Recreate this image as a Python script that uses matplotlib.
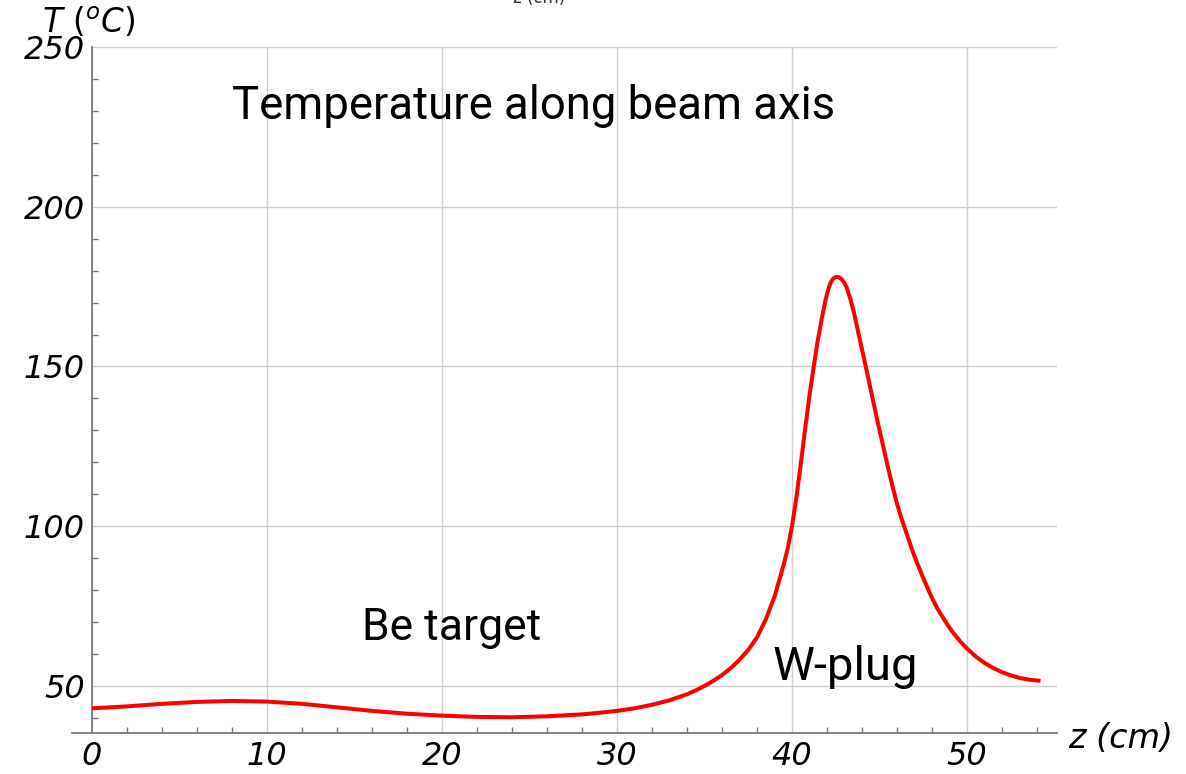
import matplotlib

matplotlib.use("Agg")
import matplotlib.pyplot as plt
from matplotlib.ticker import MultipleLocator

# ── data ─────────────────────────────────────────────────────────────────────
z_cm = [0, 2, 4, 6, 8, 10, 12, 14, 16, 18, 20, 22, 24, 26, 28, 29, 30, 31, 32,
        33, 34, 34.5, 35, 35.5, 36, 36.5, 37, 37.5, 38, 38.5, 39, 39.5, 39.75,
        40, 40.25, 40.5, 40.75, 41.0, 41.2, 41.45, 41.7, 41.9, 42.06, 42.2,
        42.35, 42.5, 42.65, 42.8, 42.95, 43.12, 43.35, 43.54, 43.85, 44.2,
        44.4, 44.6, 44.8, 45.0, 45.25, 45.5, 45.75, 46.0, 46.25, 46.5, 46.75,
        47.0, 47.3, 47.65, 48.0, 48.3, 48.6, 48.9, 49.2, 49.6, 50.0, 50.5,
        51.0, 51.5, 52.0, 52.5, 53.0, 53.6, 54.2]
temp_c = [43.0, 43.6, 44.4, 45.0, 45.3, 45.1, 44.4, 43.3, 42.2, 41.3, 40.7,
          40.3, 40.2, 40.5, 41.1, 41.6, 42.2, 43.0, 44.1, 45.5, 47.4, 48.6,
          50.0, 51.6, 53.4, 55.6, 58.2, 61.3, 65.2, 70.8, 78.0, 87.5, 93.0,
          100.0, 109.0, 119.5, 130.5, 141.0, 148.5, 157.5, 165.0, 170.5, 174.0,
          176.2, 177.5, 178.0, 178.0, 177.5, 176.5, 174.8, 170.8, 166.8, 159.0,
          150.3, 145.2, 140.1, 135.0, 130.0, 124.0, 118.0, 112.3, 107.0, 102.5,
          98.5, 94.4, 90.5, 86.4, 81.8, 77.5, 74.3, 71.6, 69.0, 66.7, 64.0,
          61.7, 59.2, 57.2, 55.6, 54.3, 53.3, 52.5, 51.9, 51.6]

x_ticks = [0, 10, 20, 30, 40, 50]
y_ticks = [50, 100, 150, 200, 250]

RED = "#ff0000"
GRID = "#cfcfcf"
AXIS = "#7a7a7a"
TICK_FONT = dict(family="DejaVu Sans", style="italic", size=23)
NOTE_FONT = "Roboto"

X_MIN, X_MAX = 0, 55.14
Y_MIN, Y_MAX = 35.27, 250

fig = plt.figure(figsize=(11.86, 7.74), dpi=100)
ax = fig.add_axes([92 / 1186, 1 - 733 / 774, (1057 - 92) / 1186, (733 - 47) / 774])

ax.plot(z_cm, temp_c, color=RED, linewidth=2.9, solid_joinstyle="round",
        solid_capstyle="butt", zorder=3)

ax.set_xlim(X_MIN, X_MAX)
ax.set_ylim(Y_MIN, Y_MAX)

# mathematica-ish axes: only left and bottom, grid on majors, small inward minors
for side in ("top", "right"):
    ax.spines[side].set_visible(False)
for side in ("left", "bottom"):
    ax.spines[side].set_color(AXIS)
    ax.spines[side].set_linewidth(1.3)
ax.spines["bottom"].set_bounds(-1.14, X_MAX)

ax.set_xticks(x_ticks)
ax.set_yticks(y_ticks)
ax.xaxis.set_minor_locator(MultipleLocator(2))
ax.yaxis.set_minor_locator(MultipleLocator(10))
ax.tick_params(which="major", length=0)
ax.tick_params(axis="x", which="major", pad=6)
ax.tick_params(axis="y", which="major", pad=5)
ax.tick_params(which="minor", direction="in", length=4, width=1, color=AXIS)
ax.set_xticklabels([str(t) for t in x_ticks], **TICK_FONT)
ax.set_yticklabels([str(t) for t in y_ticks], **TICK_FONT)
ax.grid(which="major", color=GRID, linewidth=1, zorder=0)

# annotations
ax.text(8.0, 227.4, "Temperature along beam axis", family=NOTE_FONT,
        fontsize=32.8, ha="left", va="baseline")
ax.text(15.43, 64.4, "Be target", family=NOTE_FONT, fontsize=32,
        ha="left", va="baseline")
ax.text(38.9, 51.9, "W-plug", family=NOTE_FONT, fontsize=34,
        ha="left", va="baseline")

# axis labels sit outside the frame like in the original export
fig.text(1068 / 1186, 1 - 748 / 774, "z (cm)", ha="left", va="baseline",
         family="DejaVu Sans", style="italic", size=24)
fig.text(42 / 1186, 1 - 33 / 774, r"$T\ (^{o}C)$", ha="left", va="baseline",
         fontsize=23.5, math_fontfamily="dejavusans")
# leftover label cut off at the top edge
fig.text(513 / 1186, 1 - 3 / 774, "z (cm)", ha="left", va="baseline",
         fontsize=12, color="#333333")

fig.savefig("out.png", dpi=100)
